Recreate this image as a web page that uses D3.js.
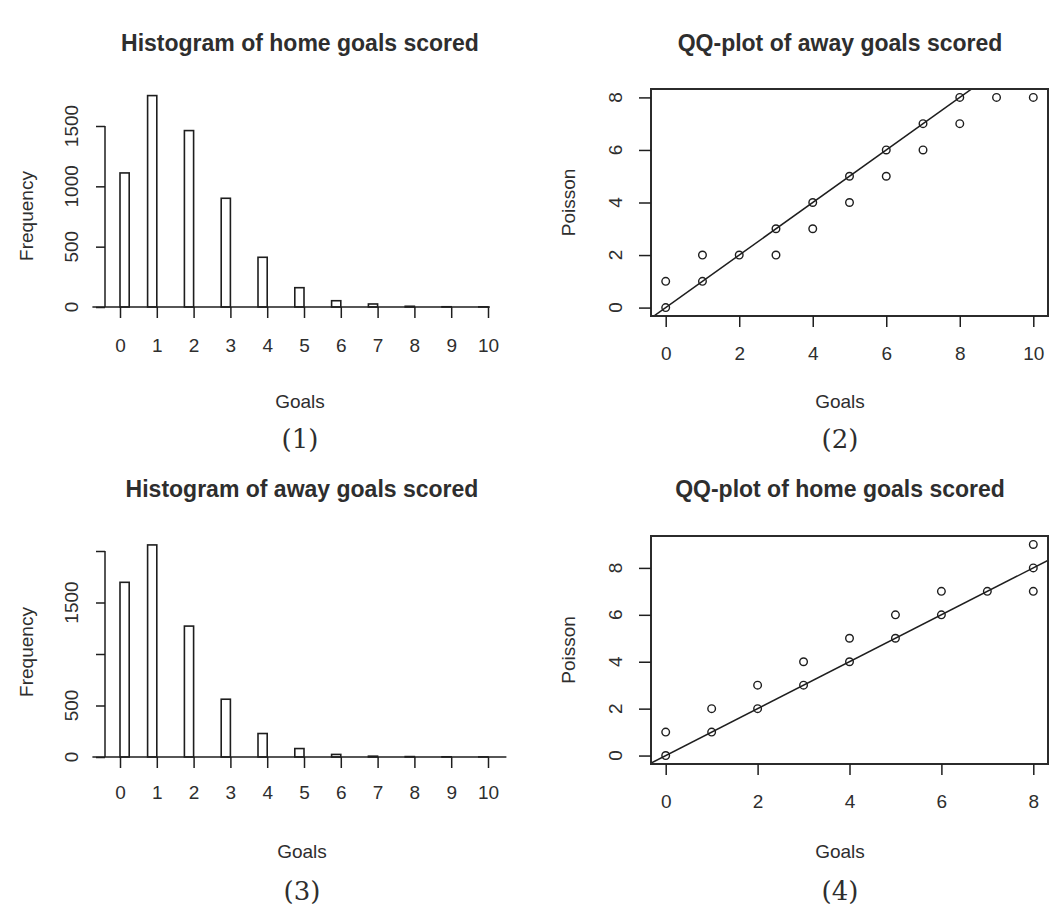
<!DOCTYPE html>
<html>
<head>
<meta charset="utf-8">
<script src="https://cdn.jsdelivr.net/npm/d3@7"></script>
<style>
  body { margin: 0; background: #fff; }
  svg { display: block; }
  text { font-family: "Liberation Sans", Arial, sans-serif; fill: #2e2e2e; }
</style>
</head>
<body>
<div id="chart"></div>
<script>
// Data
const goals = [0, 1, 2, 3, 4, 5, 6, 7, 8, 9, 10];
const homeFreq = [1111, 1752, 1462, 901, 412, 160, 52, 25, 6, 2, 1];
const awayFreq = [1696, 2059, 1271, 561, 228, 82, 25, 8, 4, 2, 1];

const qqAwayX = [0, 0, 1, 1, 2, 3, 3, 4, 4, 5, 5, 6, 6, 7, 7, 8, 8, 9, 10];
const qqAwayY = [0, 1, 1, 2, 2, 2, 3, 3, 4, 4, 5, 5, 6, 6, 7, 7, 8, 8, 8];
const qqHomeX = [0, 0, 1, 1, 2, 2, 3, 3, 4, 4, 5, 5, 6, 6, 7, 8, 8, 8];
const qqHomeY = [0, 1, 1, 2, 2, 3, 3, 4, 4, 5, 5, 6, 6, 7, 7, 7, 8, 9];

const histTicksHome = [0, 500, 1000, 1500];
const histLabelsHome = [0, 500, 1000, 1500];
const histTicksAway = [0, 500, 1000, 1500, 2000];
const histLabelsAway = [0, 500, 1500];
const qqTicksAwayX = [0, 2, 4, 6, 8, 10];
const qqTicksHomeX = [0, 2, 4, 6, 8];
const qqTicksY = [0, 2, 4, 6, 8];

const W = 1049, H = 908;
const svg = d3.select("#chart").append("svg")
  .attr("width", W).attr("height", H);

svg.append("rect").attr("width", W).attr("height", H).attr("fill", "#fff");

const ink = "#1e1e1e";

// histogram panel
function histogram(opt) {
  const x = d3.scaleLinear().domain([0, 10]).range([120, 488]);
  const y = d3.scaleLinear().domain([0, opt.yMax]).range([opt.y0, opt.yTop]);
  const g = svg.append("g");

  // zero-height bars along the baseline
  g.append("line")
    .attr("x1", x(-0.75)).attr("x2", x(opt.baseEnd))
    .attr("y1", y(0)).attr("y2", y(0))
    .attr("stroke", ink).attr("stroke-width", 1.7);

  g.selectAll("rect.bar")
    .data(goals.map((v, i) => ({v: v, f: opt.freq[i]})))
    .enter().append("rect")
    .attr("class", "bar")
    .attr("x", d => x(d.v === 0 ? 0 : d.v - 0.25))
    .attr("width", x(0.25) - x(0))
    .attr("y", d => y(d.f))
    .attr("height", d => y(0) - y(d.f))
    .attr("fill", "none")
    .attr("stroke", ink)
    .attr("stroke-width", 1.6);

  // x axis
  const xa = g.append("g").attr("transform", `translate(0,${y(0)})`)
    .call(d3.axisBottom(x).tickValues(goals).tickSize(11).tickSizeOuter(0).tickFormat(d3.format("d")));
  xa.select(".domain").remove();
  xa.selectAll("line").attr("stroke", ink).attr("stroke-width", 1.5);
  xa.selectAll("text").attr("y", opt.xLabOff).attr("dy", "0.35em")
    .style("font-size", "19px").style("font-family", "Liberation Sans, Arial, sans-serif").attr("fill", "#333");

  // y axis
  const ya = g.append("g").attr("transform", "translate(105,0)")
    .call(d3.axisLeft(y).tickValues(opt.ticks).tickSize(9).tickSizeOuter(0).tickFormat(""));
  ya.select(".domain").attr("stroke", ink).attr("stroke-width", 1.5)
    .attr("d", `M0,${y(0)}V${y(opt.ticks[opt.ticks.length - 1])}`);
  ya.selectAll("line").attr("stroke", ink).attr("stroke-width", 1.5);

  g.selectAll("text.ylab")
    .data(opt.labels)
    .enter().append("text")
    .attr("class", "ylab")
    .attr("transform", d => `translate(71,${y(d)}) rotate(-90)`)
    .attr("text-anchor", "middle")
    .attr("dy", "0.35em")
    .style("font-size", "19px")
    .text(d => d);

  g.append("text")
    .attr("transform", `translate(26,${opt.freqY}) rotate(-90)`)
    .attr("text-anchor", "middle").attr("dy", "0.35em")
    .style("font-size", "19px")
    .text("Frequency");

  labels(g, opt);
}

// qq panel
function qqplot(opt) {
  const x = d3.scaleLinear().domain(opt.xDom).range([opt.left, opt.right]);
  const y = d3.scaleLinear().domain(opt.yDom).range([opt.bottom, opt.top]);
  const g = svg.append("g");
  const clipId = "clip" + opt.num;

  g.append("clipPath").attr("id", clipId).append("rect")
    .attr("x", opt.left).attr("y", opt.top)
    .attr("width", opt.right - opt.left).attr("height", opt.bottom - opt.top);

  // y = x reference line
  g.append("line")
    .attr("clip-path", `url(#${clipId})`)
    .attr("x1", x(-1)).attr("y1", y(-1))
    .attr("x2", x(12)).attr("y2", y(12))
    .attr("stroke", ink).attr("stroke-width", 1.5);

  g.selectAll("circle")
    .data(opt.xs.map((v, i) => [v, opt.ys[i]]))
    .enter().append("circle")
    .attr("cx", d => x(d[0])).attr("cy", d => y(d[1]))
    .attr("r", 3.8)
    .attr("fill", "none").attr("stroke", ink).attr("stroke-width", 1.4);

  g.append("rect")
    .attr("x", opt.left).attr("y", opt.top)
    .attr("width", opt.right - opt.left).attr("height", opt.bottom - opt.top)
    .attr("fill", "none").attr("stroke", "#2b2b2b").attr("stroke-width", 2);

  const xa = g.append("g").attr("transform", `translate(0,${opt.bottom})`)
    .call(d3.axisBottom(x).tickValues(opt.xTicks).tickSize(11).tickSizeOuter(0));
  xa.select(".domain").remove();
  xa.selectAll("line").attr("stroke", ink).attr("stroke-width", 1.5);
  xa.selectAll("text").attr("y", 37).attr("dy", "0.35em")
    .style("font-size", "19px").style("font-family", "Liberation Sans, Arial, sans-serif").attr("fill", "#333");

  const ya = g.append("g").attr("transform", `translate(${opt.left},0)`)
    .call(d3.axisLeft(y).tickValues(qqTicksY).tickSize(12).tickSizeOuter(0).tickFormat(""));
  ya.select(".domain").remove();
  ya.selectAll("line").attr("stroke", ink).attr("stroke-width", 1.5);

  g.selectAll("text.ylab")
    .data(qqTicksY)
    .enter().append("text")
    .attr("class", "ylab")
    .attr("transform", d => `translate(615,${y(d)}) rotate(-90)`)
    .attr("text-anchor", "middle")
    .attr("dy", "0.35em")
    .style("font-size", "19px")
    .text(d => d);

  g.append("text")
    .attr("transform", `translate(568,${(opt.top + opt.bottom) / 2}) rotate(-90)`)
    .attr("text-anchor", "middle").attr("dy", "0.35em")
    .style("font-size", "19px")
    .text("Poisson");

  labels(g, opt);
}

function labels(g, opt) {
  g.append("text")
    .attr("x", opt.cx).attr("y", opt.titleY)
    .attr("text-anchor", "middle")
    .style("font-size", "23px").style("font-weight", "bold")
    .attr("fill", "#111")
    .text(opt.title);
  g.append("text")
    .attr("x", opt.cx).attr("y", opt.goalsY)
    .attr("text-anchor", "middle").attr("dy", "0.35em")
    .style("font-size", "19px")
    .text("Goals");
  g.append("text")
    .attr("x", opt.cx).attr("y", opt.numY)
    .attr("text-anchor", "middle").attr("dy", "0.35em")
    .style("font-family", "'DejaVu Serif', serif")
    .style("font-size", "26px")
    .attr("fill", "#1a1a1a")
    .text(opt.numLabel);
}

histogram({
  freq: homeFreq, yMax: 1500, y0: 307, yTop: 126, baseEnd: 10.05,
  ticks: histTicksHome, labels: histLabelsHome, xLabOff: 38, freqY: 216,
  cx: 300, title: "Histogram of home goals scored", titleY: 51,
  goalsY: 401, numY: 439, numLabel: "(1)"
});

histogram({
  freq: awayFreq, yMax: 2000, y0: 757, yTop: 551, baseEnd: 10.5,
  ticks: histTicksAway, labels: histLabelsAway, xLabOff: 35, freqY: 652,
  cx: 302, title: "Histogram of away goals scored", titleY: 497,
  goalsY: 851, numY: 891, numLabel: "(3)"
});

qqplot({
  num: 2, xs: qqAwayX, ys: qqAwayY, xTicks: qqTicksAwayX,
  xDom: [-0.4, 10.4], yDom: [-0.32, 8.32],
  left: 651, right: 1048, top: 89, bottom: 316,
  cx: 840, title: "QQ-plot of away goals scored", titleY: 51,
  goalsY: 401, numY: 439, numLabel: "(2)"
});

qqplot({
  num: 4, xs: qqHomeX, ys: qqHomeY, xTicks: qqTicksHomeX,
  xDom: [-0.32, 8.32], yDom: [-0.36, 9.36],
  left: 651, right: 1048, top: 536, bottom: 764,
  cx: 840, title: "QQ-plot of home goals scored", titleY: 497,
  goalsY: 851, numY: 891, numLabel: "(4)"
});
</script>
</body>
</html>
